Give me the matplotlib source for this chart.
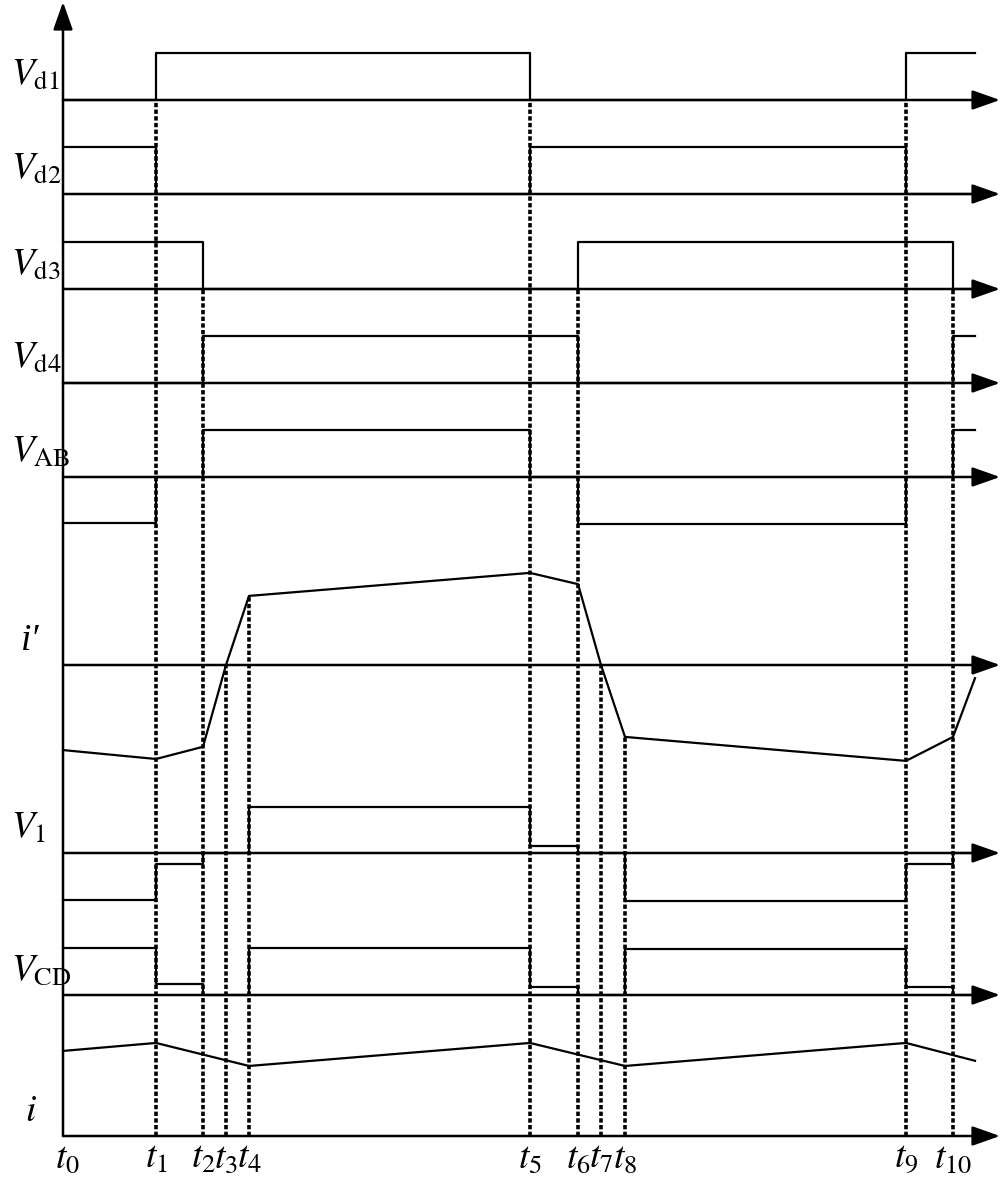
import numpy as np
import matplotlib.pyplot as plt

plt.rcParams['mathtext.fontset'] = 'stix'
plt.rcParams['font.family'] = 'STIXGeneral'

# switching instants t0..t10 and end of the drawn waveforms
t_marks = [0, 93, 140, 163, 186, 467, 515, 538, 562, 843, 890]
t_stop = 912
t_names = ['t_{0}', 't_{1}', 't_{2}', 't_{3}', 't_{4}', 't_{5}',
           't_{6}', 't_{7}', 't_{8}', 't_{9}', 't_{10}']

# step waveforms: edge times and levels (1 = one amplitude unit)
vd1_t = [0, 93, 467, 843]
vd1_v = [0, 1, 0, 1]
vd2_t = [0, 93, 467, 843]
vd2_v = [1, 0, 1, 0]
vd3_t = [0, 140, 515, 890]
vd3_v = [1, 0, 1, 0]
vd4_t = [0, 140, 515, 890]
vd4_v = [0, 1, 0, 1]
vab_t = [0, 93, 140, 467, 515, 843, 890]
vab_v = [-0.98, 0, 1, 0, -1, 0, 1]
v1_t = [0, 93, 140, 186, 467, 515, 562, 843, 890]
v1_v = [-1.0, -0.23, 0, 0.98, 0.15, 0, -1.02, -0.23, 0]
vcd_t = [0, 93, 140, 186, 467, 515, 562, 843, 890]
vcd_v = [0.99, 0.23, 0, 0.99, 0.17, 0, 0.98, 0.17, 0]

# piecewise-linear currents
ip_t = [0, 93, 140, 163, 186, 467, 515, 538, 562, 843, 890, 912]
ip_v = [-1.81, -2.0, -1.74, 0, 1.47, 1.96, 1.72, 0, -1.53, -2.04, -1.53, -0.28]
i_t = [0, 93, 186, 467, 562, 843, 912]
i_v = [1.81, 1.98, 1.49, 1.98, 1.49, 1.98, 1.6]

# layout
amp = 47
rows = [
    (r'$V_{\mathrm{d1}}$', 1036, vd1_t, vd1_v, 'step'),
    (r'$V_{\mathrm{d2}}$', 942, vd2_t, vd2_v, 'step'),
    (r'$V_{\mathrm{d3}}$', 847, vd3_t, vd3_v, 'step'),
    (r'$V_{\mathrm{d4}}$', 753, vd4_t, vd4_v, 'step'),
    (r'$V_{\mathrm{AB}}$', 659, vab_t, vab_v, 'step'),
    ('i\u2032', 471, ip_t, ip_v, 'line'),
    (r'$V_{\mathrm{1}}$', 283, v1_t, v1_v, 'step'),
    (r'$V_{\mathrm{CD}}$', 141, vcd_t, vcd_v, 'step'),
    (r'$i$', 0, i_t, i_v, 'line'),
]
label_x = {'i\u2032': -42, r'$i$': -38}

fig = plt.figure(figsize=(10, 11.79), dpi=100)
ax = fig.add_axes([0, 0, 1, 1])
ax.set_xlim(-63, 937)
ax.set_ylim(-43, 1136)
ax.axis('off')

arrow = dict(arrowstyle='-|>,head_length=0.85,head_width=0.3', lw=1.8,
             color='black', mutation_scale=20, shrinkA=0, shrinkB=0)

# vertical axis
ax.annotate('', xy=(0, 1134), xytext=(0, 0), arrowprops=arrow)

for name, base, tt, vv, kind in rows:
    ax.annotate('', xy=(937, base), xytext=(0, base), arrowprops=arrow)
    if kind == 'step':
        xs = list(tt) + [t_stop]
        ys = [base + amp * v for v in vv] + [base + amp * vv[-1]]
        ax.step(xs, ys, where='post', color='black', lw=1.6)
    else:
        ax.plot(tt, [base + amp * v for v in vv], color='black', lw=1.6)
    if name.startswith('$'):
        ax.text(label_x.get(name, -52), base + 15, name, fontsize=27,
                ha='left', va='baseline')
    else:
        ax.text(label_x.get(name, -52), base + 15, name, fontsize=27,
                ha='left', va='baseline', fontstyle='italic',
                family=['Liberation Serif', 'DejaVu Serif'])

# dashed markers from waveform edges down to the time axis
ip_base = 471
ip_abs = np.interp(t_marks, ip_t, [ip_base + amp * v for v in ip_v])
dash_top = [None, 1036, 847, ip_abs[3], ip_abs[4], 1036, 847,
            ip_abs[7], ip_abs[8], 1036, 847]
for tx, top in zip(t_marks, dash_top):
    if top is not None:
        ax.plot([tx, tx], [0, top], color='black', lw=2.6,
                linestyle=(0, (1.2, 0.65)))

for k, (tx, nm) in enumerate(zip(t_marks, t_names)):
    ax.text(tx + (4 if k == 0 else 0), -32, '$' + nm + '$', fontsize=27,
            ha='center', va='baseline')

fig.savefig('out.png', dpi=100)
